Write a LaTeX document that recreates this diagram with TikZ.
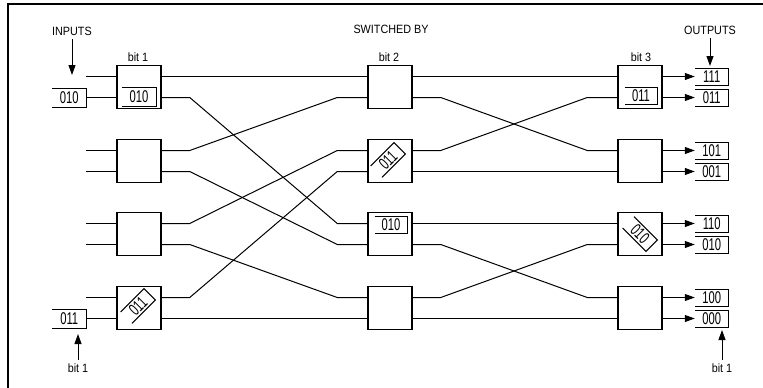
\documentclass[tikz,border=0pt]{standalone}
\usepackage{fontspec}
\setmainfont{Liberation Sans}
\newfontfamily\capfont[FakeStretch=0.9]{Liberation Sans}
\newfontfamily\regfont[FakeStretch=0.66]{Liberation Sans}
\usetikzlibrary{positioning, arrows.meta}

\begin{document}
\begin{tikzpicture}[x=1pt, y=-1pt, line width=1pt,
  switch/.style={draw, line width=1.5pt, minimum width=44pt, minimum height=43pt, inner sep=0pt},
  reg/.style={inner sep=0pt, minimum width=33pt, minimum height=16pt, font=\regfont\fontsize{17}{19}\selectfont},
  wire/.style={to path={-- ++(28,0) -- ([xshift=-30pt]\tikztotarget) -- (\tikztotarget)}},
  tip/.style={-{Triangle[length=10pt, width=7pt]}},
  caption/.style={font=\capfont\fontsize{12}{14}\selectfont}]
  \useasboundingbox (0,0) rectangle (763,388);

  % frame
  \draw[line width=1.3pt] (8,388) -- (8,4) -- (763,4);

  % switches and their ports
  \foreach \c/\x in {1/139,2/390,3/640}
    \foreach \r/\y in {0/87,1/161,2/234,3/308}{
      \node[switch] (s\c\r) at (\x,\y) {};
      \coordinate (s\c\r-i1) at ([yshift=10.5pt]s\c\r.west);
      \coordinate (s\c\r-i2) at ([yshift=-10.5pt]s\c\r.west);
      \coordinate (s\c\r-o1) at ([yshift=10.5pt]s\c\r.east);
      \coordinate (s\c\r-o2) at ([yshift=-10.5pt]s\c\r.east);
    }

  % captions
  \node[caption] (inputs) at (72,31) {INPUTS};
  \node[caption] (switched) at (391,29) {SWITCHED BY};
  \node[caption] (outputs) at (710,30) {OUTPUTS};
  \node[caption] (bit1) at (138,57) {bit 1};
  \node[caption] (bit2) at (389,57) {bit 2};
  \node[caption] (bit3) at (641,57) {bit 3};
  \node[caption] (bitL) at (78,368) {bit 1};
  \node[caption] (bitR) at (722,368) {bit 1};

  \coordinate (inputs-end) at (72,75);
  \coordinate (outputs-end) at (710,66);
  \coordinate (bitL-end) at (78,334);
  \coordinate (bitR-end) at (722,330);
  \draw[tip] (inputs) -- (inputs-end);
  \draw[tip] (outputs) -- (outputs-end);
  \draw[tip] (bitL) -- (bitL-end);
  \draw[tip] (bitR) -- (bitR-end);

  % inputs
  \node[reg, minimum height=18pt, left=30pt of s10-i2] (in1) {010};
  \node[reg, minimum height=18pt, left=30pt of s13-i2] (in7) {011};
  \foreach \p/\s in {0/s10-i1,2/s11-i1,3/s11-i2,4/s12-i1,5/s12-i2,6/s13-i1}
    \coordinate (src\p) at ([xshift=-30pt]\s);
  \foreach \p/\s in {0/s10-i1,2/s11-i1,3/s11-i2,4/s12-i1,5/s12-i2,6/s13-i1}
    \draw (src\p) -- (\s);
  \draw (in1.east) -- (s10-i2);
  \draw (in7.east) -- (s13-i2);

  % stage 1 to stage 2
  \foreach \a/\b in {s10-o1/s20-i1, s10-o2/s22-i1, s11-o1/s20-i2, s11-o2/s22-i2,
                     s12-o1/s21-i1, s12-o2/s23-i1, s13-o1/s21-i2, s13-o2/s23-i2}
    \draw[wire] (\a) to (\b);
  % stage 2 to stage 3
  \foreach \a/\b in {s20-o1/s30-i1, s20-o2/s31-i1, s21-o1/s30-i2, s21-o2/s31-i2,
                     s22-o1/s32-i1, s22-o2/s33-i1, s23-o1/s32-i2, s23-o2/s33-i2}
    \draw[wire] (\a) to (\b);

  % outputs
  \foreach \o/\s/\t in {0/s30-o1/111, 1/s30-o2/011, 2/s31-o1/101, 3/s31-o2/001,
                        4/s32-o1/110, 5/s32-o2/010, 6/s33-o1/100, 7/s33-o2/000}{
    \node[reg, right=32pt of \s] (out\o) {\t};
    \draw[tip] (\s) -- (out\o.west);
  }

  % routing tags inside the switches
  \node[reg, minimum height=18pt] (r11) at (139,97) {010};
  \node[reg, minimum width=32pt] (r31) at (641,96) {011};
  \node[reg, minimum width=32pt] (r23) at (391,225) {010};
  \node[reg, minimum width=32pt, minimum height=15pt, rotate=45] (r14) at (138,306) {011};
  \node[reg, minimum width=32pt, minimum height=15pt, rotate=45] (r22) at (388,160) {011};
  \node[reg, minimum width=32pt, minimum height=15pt, rotate=-45] (r33) at (640,234) {010};

  % tag outlines, open on the left
  \foreach \n in {in1,in7,r11,r31,r23,r14,r22,r33,out0,out1,out2,out3,out4,out5,out6,out7}
    \draw (\n.north west) -- (\n.north east) -- (\n.south east) -- (\n.south west);
\end{tikzpicture}
\end{document}
